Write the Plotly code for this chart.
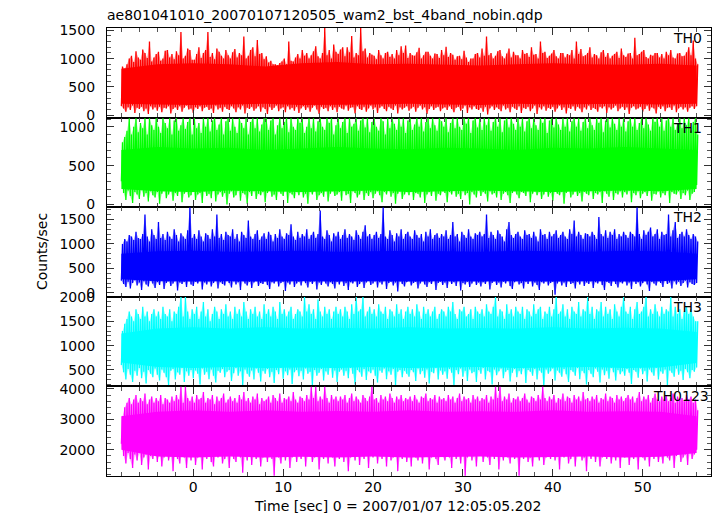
import numpy as np
import plotly.graph_objects as go
from plotly.subplots import make_subplots

# ---------------- data ----------------
# sample times (s): one low/high pair every 0.25 s, from -8 s to 56 s
time_s = np.arange(-8.0, 56.001, 0.25)
# times (s) of the dense-core band edges, one every 4 s
core_time_s = np.arange(-8.0, 56.001, 4.0)

panel_names = ["TH0", "TH1", "TH2", "TH3", "TH0123"]
panel_colors = ["#ff0000", "#00ff00", "#0000ff", "#00ffff", "#ff00ff"]

th0_hi = [
    860, 820, 900, 1000, 1050, 940, 1130, 1020, 980, 1160, 1100, 1010, 1300, 950, 1020, 1080,
    1120, 960, 1000, 1140, 1150, 1020, 1080, 990, 1130, 1060, 1470, 1000, 1050, 1180, 1150, 980,
    980, 1080, 1200, 1010, 1100, 1150, 1470, 1030, 1100, 990, 1180, 1120, 1050, 1000, 1150, 1060,
    1000, 1110, 1170, 1020, 1100, 1060, 1390, 1000, 1050, 1150, 1200, 1040, 1330, 1080, 1100, 990,
    1040, 930, 960, 900, 900, 880, 920, 950, 1000, 900, 1300, 960, 950, 1020, 1080, 1000,
    1150, 1050, 1100, 1000, 1060, 1130, 1220, 1040, 1000, 1100, 1540, 1060, 1150, 1000, 1250, 1120,
    1080, 1160, 1200, 1040, 1200, 1110, 1400, 1020, 1100, 1060, 1540, 1130, 1180, 1020, 1100, 1070,
    1050, 990, 1150, 1060, 1000, 1100, 1120, 1030, 1080, 1000, 1150, 1060, 1220, 1100, 1230, 1010,
    1100, 1060, 1050, 1110, 1190, 1000, 1060, 1120, 1120, 1050, 1000, 1090, 1080, 1010, 1150, 1060,
    1210, 1030, 1100, 1070, 980, 1040, 1050, 990, 1140, 1020, 940, 1000, 1000, 1080, 1100, 1020,
    1180, 1050, 1390, 1060, 1100, 1000, 1050, 1130, 1150, 1040, 1000, 1090, 1180, 1020, 1120, 1060,
    1060, 1000, 1150, 1080, 1100, 1030, 1200, 1070, 1080, 1000, 1300, 1100, 1120, 1010, 1050, 1090,
    1150, 1040, 1000, 1100, 1100, 1020, 1080, 1060, 1150, 1000, 1300, 1080, 1170, 1040, 1060, 1100,
    1200, 1020, 1080, 1060, 1000, 1110, 1150, 1030, 1100, 1000, 1050, 1080, 1120, 1010, 1180, 1060,
    1030, 1090, 1100, 1000, 1370, 1060, 1080, 1120, 1150, 1030, 1000, 1070, 1050, 1100, 1100, 1020,
    1080, 1000, 1120, 1060, 1150, 1020, 1000, 1090, 1100, 1040, 1050, 1110, 1200, 1060, 1320, 1000,
    900]
th0_lo = [
    160, 120, 60, 140, 90, 170, 40, 130, 110, 150, 70, 120, 20, 160, 100, 140,
    80, 150, 50, 130, 120, 160, 30, 110, 140, 90, 160, 60, 130, 170, 100, 120,
    40, 140, 110, 160, 70, 130, 150, 90, 120, 40, 170, 100, 130, 60, 150, 110,
    90, 160, 120, 50, 140, 100, 170, 30, 130, 110, 150, 80, 120, 160, 60, 140,
    110, 20, 150, 90, 130, 170, 70, 120, 140, 50, 160, 100, 130, 80, 150, 40,
    120, 160, 90, 140, 60, 130, 170, 100, 20, 150, 110, 130, 70, 160, 90, 140,
    50, 150, 120, 100, 170, 80, 130, 140, 30, 160, 110, 90, 150, 60, 120, 170,
    100, 140, 40, 130, 160, 110, 70, 150, 120, 90, 170, 30, 140, 100, 130, 160,
    80, 120, 150, 60, 130, 170, 100, 140, 20, 110, 160, 90, 130, 150, 70, 120,
    140, 90, 160, 110, 50, 130, 150, 80, 120, 170, 40, 140, 100, 160, 110, 90,
    130, 60, 150, 10, 120, 160, 90, 140, 110, 70, 170, 100, 130, 50, 150, 120,
    90, 160, 40, 130, 110, 150, 70, 120, 170, 20, 140, 100, 160, 80, 130, 110,
    150, 60, 120, 170, 90, 140, 30, 130, 110, 160, 80, 150, 120, 50, 140, 100,
    170, 90, 130, 110, 60, 150, 120, 160, 40, 140, 100, 130, 170, 70, 120, 150,
    90, 140, 20, 130, 160, 100, 120, 150, 60, 110, 170, 80, 140, 120, 30, 150,
    110, 160, 70, 130, 140, 90, 170, 50, 120, 150, 100, 140, 60, 130, 160, 110,
    160]
th0_core_hi = [820, 900, 920, 900, 860, 920, 940, 900, 910, 900, 880, 900, 920, 900, 890, 910, 880]
th0_core_lo = [200, 190, 180, 190, 200, 180, 190, 190, 200, 190, 180, 200, 190, 190, 200, 190, 200]

th1_hi = [
    800, 870, 950, 1110, 900, 1000, 1110, 930, 1050, 980, 1110, 900, 1110, 1020, 960, 1110,
    1000, 920, 1110, 1050, 980, 1110, 900, 1080, 1110, 950, 1020, 1110, 970, 1060, 1110, 900,
    1110, 980, 1050, 920, 1110, 1000, 1110, 940, 1080, 1110, 960, 1030, 1110, 900, 1070, 1110,
    950, 1110, 1000, 920, 1110, 1050, 980, 1110, 900, 1060, 1110, 980, 1110, 940, 1030, 1110,
    1110, 960, 1080, 1110, 900, 1020, 1110, 980, 1060, 1110, 930, 1110, 1000, 960, 1110, 1050,
    1110, 920, 1000, 1110, 980, 1110, 940, 1070, 1110, 1000, 960, 1110, 1050, 1110, 900, 1020,
    1110, 980, 1060, 1110, 920, 1110, 1000, 1040, 1110, 950, 1080, 1110, 990, 1110, 930, 1060,
    1110, 1000, 950, 1110, 1070, 900, 1110, 980, 1110, 1040, 960, 1110, 1000, 1110, 920, 1080,
    1110, 960, 1030, 1110, 1000, 1110, 940, 1060, 1110, 980, 1110, 1020, 950, 1110, 1070, 1000,
    1110, 930, 1050, 1110, 980, 1110, 1000, 960, 1110, 1040, 1110, 920, 1080, 1110, 990, 1110,
    960, 1110, 1020, 1110, 950, 1060, 1110, 1000, 1110, 930, 1080, 1110, 990, 1110, 1040, 960,
    1110, 1000, 1110, 940, 1070, 1110, 980, 1110, 1020, 960, 1110, 1050, 1110, 920, 1080, 1110,
    990, 1110, 1030, 960, 1110, 1000, 1110, 940, 1070, 1110, 1000, 1110, 950, 1060, 1110, 980,
    1110, 1020, 960, 1110, 1050, 1110, 930, 1080, 1110, 990, 1110, 1040, 960, 1110, 1000, 1110,
    940, 1070, 1110, 1000, 1110, 960, 1050, 1110, 980, 1110, 1030, 950, 1110, 1060, 1110, 1000,
    1110, 950, 1080, 1110, 1000, 1110, 960, 1040, 1110, 980, 1110, 1020, 1110, 950, 1060, 1110,
    900]
th1_lo = [
    300, 150, 60, 180, 110, 20, 160, 130, 70, 190, 100, 150, 40, 170, 120, 90,
    160, 10, 140, 180, 80, 130, 170, 50, 150, 110, 190, 30, 140, 160, 90, 120,
    180, 60, 130, 150, 20, 170, 110, 140, 80, 190, 40, 130, 160, 100, 150, 0,
    140, 170, 90, 120, 180, 50, 150, 130, 10, 160, 110, 180, 70, 140, 120, 160,
    30, 150, 180, 100, 130, 60, 170, 140, 110, 190, 20, 150, 130, 80, 160, 120,
    170, 90, 140, 10, 160, 130, 180, 60, 120, 150, 100, 190, 40, 140, 170, 110,
    130, 160, 50, 180, 120, 140, 20, 170, 150, 90, 130, 180, 60, 150, 110, 160,
    80, 140, 170, 120, 30, 160, 130, 180, 100, 150, 10, 140, 170, 70, 130, 160,
    120, 180, 60, 150, 140, 90, 170, 20, 130, 160, 110, 180, 50, 140, 120, 170,
    150, 30, 160, 130, 180, 100, 140, 70, 170, 120, 150, 0, 160, 130, 90, 180,
    110, 160, 140, 40, 170, 130, 150, 90, 180, 60, 140, 160, 120, 20, 150, 170,
    130, 80, 160, 150, 110, 180, 30, 140, 170, 120, 160, 70, 130, 180, 100, 150,
    50, 170, 140, 120, 160, 10, 150, 180, 90, 130, 170, 110, 150, 40, 160, 140,
    120, 180, 70, 150, 130, 160, 20, 170, 140, 100, 180, 60, 150, 130, 170, 90,
    160, 130, 180, 30, 150, 120, 170, 80, 140, 160, 110, 180, 50, 140, 130, 170,
    90, 150, 120, 180, 20, 160, 140, 130, 170, 70, 150, 120, 180, 60, 140, 160,
    250]
th1_core_hi = [700, 740, 720, 730, 700, 720, 740, 720, 710, 730, 720, 700, 730, 720, 740, 720, 700]
th1_core_lo = [200, 170, 160, 180, 170, 160, 170, 180, 160, 170, 180, 170, 160, 170, 180, 170, 200]

th2_hi = [
    1000, 1100, 1050, 1180, 1150, 1080, 1250, 1120, 1100, 1200, 1600, 1150, 1050, 1300, 1180, 1100,
    1450, 1120, 1200, 1080, 1250, 1150, 1100, 1300, 1180, 1050, 1220, 1150, 1100, 1280, 1750, 1120,
    1200, 1100, 1280, 1150, 1050, 1220, 1180, 1100, 1300, 1150, 1600, 1120, 1200, 1080, 1250, 1180,
    1150, 1300, 1100, 1200, 1050, 1250, 1180, 1120, 1480, 1150, 1100, 1200, 1280, 1080, 1150, 1220,
    1100, 1250, 1180, 1050, 1200, 1120, 1300, 1150, 1100, 1220, 1180, 1400, 1150, 1080, 1250, 1120,
    1200, 1150, 1300, 1100, 1180, 1250, 1120, 1200, 1680, 1150, 1100, 1280, 1180, 1050, 1220, 1150,
    1250, 1100, 1180, 1300, 1120, 1200, 1150, 1080, 1280, 1180, 1100, 1250, 1380, 1150, 1200, 1100,
    1180, 1250, 1120, 1200, 1750, 1150, 1100, 1280, 1180, 1050, 1220, 1150, 1300, 1100, 1200, 1250,
    1150, 1100, 1280, 1180, 1120, 1200, 1050, 1250, 1150, 1300, 1100, 1180, 1220, 1120, 1200, 1150,
    1280, 1100, 1180, 1450, 1150, 1200, 1050, 1250, 1180, 1120, 1300, 1150, 1100, 1220, 1180, 1250,
    1150, 1200, 1600, 1120, 1250, 1180, 1100, 1280, 1200, 1150, 1050, 1300, 1450, 1180, 1120, 1200,
    1250, 1150, 1100, 1280, 1180, 1200, 1120, 1250, 1150, 1050, 1300, 1180, 1200, 1100, 1250, 1150,
    1200, 1280, 1120, 1180, 1250, 1150, 1100, 1300, 1200, 1480, 1150, 1250, 1180, 1100, 1220, 1200,
    1150, 1250, 1180, 1100, 1550, 1200, 1150, 1280, 1120, 1250, 1180, 1300, 1100, 1200, 1150, 1250,
    1180, 1120, 1250, 1200, 1150, 1750, 1200, 1100, 1280, 1180, 1250, 1335, 1150, 1200, 1300, 1100,
    1250, 1180, 1200, 1600, 1150, 1280, 1450, 1120, 1200, 1250, 1150, 1300, 1180, 1100, 1200, 1150,
    1050]
th2_lo = [
    250, 180, 120, 230, 90, 200, 260, 150, 210, 60, 240, 170, 130, 250, 190, 100,
    220, 160, 270, 80, 200, 240, 140, 190, 250, 50, 210, 180, 230, 120, 260, 170,
    140, 230, 190, 260, 70, 210, 170, 240, 130, 200, 250, 90, 220, 180, 150, 260,
    200, 110, 240, 170, 220, 60, 250, 190, 150, 230, 100, 210, 260, 140, 200, 180,
    240, 160, 80, 220, 190, 250, 130, 200, 230, 40, 210, 170, 250, 120, 190, 230,
    150, 260, 200, 110, 230, 180, 240, 70, 210, 160, 250, 190, 130, 220, 180, 90,
    230, 170, 250, 140, 200, 60, 220, 190, 250, 120, 180, 230, 100, 210, 250, 160,
    190, 240, 110, 220, 170, 250, 80, 200, 230, 150, 210, 30, 240, 180, 130, 220,
    250, 150, 200, 230, 90, 190, 240, 170, 120, 220, 180, 250, 60, 200, 230, 160,
    210, 100, 240, 180, 220, 140, 250, 50, 200, 170, 230, 120, 190, 250, 160, 210,
    130, 220, 180, 250, 70, 200, 240, 160, 210, 110, 230, 190, 250, 140, 80, 220,
    240, 170, 200, 90, 230, 180, 250, 130, 210, 160, 60, 220, 190, 240, 150, 200,
    230, -40, 190, 240, 150, 210, 120, 250, 180, 200, 90, 230, 170, 250, 140, 210,
    180, 240, 100, 220, 190, 250, 160, 60, 230, 200, 140, 250, 180, 110, 220, 190,
    250, 150, 210, 80, 240, 180, 220, 130, 200, 250, 170, 40, 230, 190, 150, 240,
    200, 120, 250, 180, 210, 90, 240, 170, 230, 140, 200, 250, 110, 220, 180, 160,
    200]
th2_core_hi = [800, 850, 860, 840, 850, 860, 840, 850, 860, 850, 840, 860, 850, 840, 860, 850, 800]
th2_core_lo = [280, 240, 230, 240, 230, 240, 230, 240, 230, 240, 230, 240, 230, 240, 230, 240, 280]

th3_hi = [
    1300, 1450, 1550, 1700, 1600, 1500, 1750, 1650, 1550, 1800, 1600, 1700, 1500, 1650, 1750, 1600,
    1700, 1550, 1800, 1650, 1600, 1750, 1500, 1700, 1650, 1800, 2000, 1600, 2000, 1700, 1550, 1750,
    1650, 1800, 1550, 1700, 1900, 1600, 1750, 1500, 1650, 1800, 1700, 1550, 1750, 1650, 1850, 1600,
    1700, 1550, 1800, 1650, 1750, 1600, 1900, 1700, 1550, 1750, 1650, 1800, 1600, 1700, 1550, 1850,
    1650, 1750, 1600, 1800, 1700, 1550, 1900, 1650, 1750, 1600, 1700, 1800, 1550, 1650, 1750, 1700,
    1600, 2000, 1700, 1850, 1650, 1750, 1550, 1950, 1700, 1600, 1800, 1650, 1750, 1550, 1700, 1800,
    1650, 1750, 1600, 1800, 1700, 1550, 1850, 1650, 2000, 1700, 1750, 2000, 1600, 1700, 1800, 1650,
    1750, 1600, 1850, 1700, 1650, 1800, 1550, 1750, 1700, 1600, 1850, 1650, 1750, 1550, 1700, 1800,
    1650, 1750, 1600, 1850, 1700, 1550, 1800, 1650, 1750, 1600, 1700, 1800, 1550, 1650, 1750, 1700,
    1600, 1800, 1700, 1900, 1650, 1550, 1750, 1700, 1800, 1600, 1650, 1750, 1550, 1800, 1700, 1650,
    1750, 1600, 1850, 1700, 1650, 1800, 2000, 1600, 1750, 1700, 1550, 1850, 1650, 1750, 1600, 1800,
    1700, 1650, 1800, 1550, 1750, 1700, 1600, 1850, 1650, 1750, 1800, 1550, 1700, 1650, 1800, 1600,
    1750, 2000, 1650, 1700, 1850, 1600, 1750, 1550, 1800, 1700, 1650, 1900, 1600, 1750, 1700, 2000,
    1650, 1800, 1550, 1750, 1700, 1900, 1600, 1800, 1650, 1750, 1550, 1850, 1700, 1600, 1800, 2000,
    1700, 1650, 1800, 1550, 1750, 1900, 1650, 1700, 1800, 2000, 1600, 1750, 1650, 1850, 1700, 1600,
    1800, 1650, 1750, 1700, 2000, 1600, 1800, 1650, 1750, 1550, 1700, 1800, 1650, 1750, 1600, 1500,
    1500]
th3_lo = [
    600, 450, 300, 520, 400, 250, 480, 380, 540, 330, 460, 220, 500, 420, 350, 530,
    400, 280, 510, 440, 350, 190, 480, 520, 300, 450, 400, 540, 250, 470, 380, 500,
    330, 490, 420, 200, 530, 400, 460, 310, 510, 380, 240, 480, 440, 520, 350, 460,
    500, 270, 430, 540, 380, 470, 180, 510, 420, 360, 490, 300, 530, 440, 260, 480,
    420, 520, 350, 460, 230, 500, 410, 540, 320, 470, 390, 510, 210, 450, 500, 370,
    480, 300, 530, 420, 460, 170, 500, 380, 440, 520, 280, 470, 400, 540, 340, 490,
    250, 460, 510, 380, 480, 330, 540, 420, 200, 500, 450, 360, 520, 290, 470, 430,
    510, 380, 240, 490, 440, 530, 310, 470, 400, 520, 180, 460, 500, 350, 480, 420,
    360, 500, 450, 270, 530, 410, 480, 340, 510, 220, 460, 430, 540, 300, 490, 400,
    470, 320, 520, 440, 190, 500, 410, 530, 360, 480, 270, 510, 430, 460, 250, 500,
    420, 540, 300, 480, 450, 200, 510, 390, 470, 530, 330, 460, 500, 260, 440, 520,
    350, 480, 410, 530, 230, 500, 460, 380, 520, 300, 490, 440, 170, 510, 420, 470,
    530, 280, 490, 440, 360, 520, 410, 250, 500, 460, 380, 540, 310, 480, 430, 200,
    500, 420, 350, 530, 460, 240, 510, 390, 480, 320, 540, 450, 280, 500, 410, 470,
    380, 520, 440, 210, 500, 460, 340, 530, 410, 480, 260, 510, 450, 380, 540, 300,
    470, 420, 510, 180, 490, 440, 360, 530, 400, 480, 290, 520, 450, 330, 500, 460,
    550]
th3_core_hi = [1250, 1350, 1380, 1350, 1380, 1350, 1370, 1350, 1380, 1350, 1360, 1350, 1380, 1350, 1370, 1350, 1280]
th3_core_lo = [650, 560, 540, 560, 540, 550, 540, 560, 540, 550, 560, 540, 550, 560, 540, 550, 640]

th0123_hi = [
    3100, 3400, 3550, 3700, 3500, 3650, 3800, 3550, 3700, 3600, 3850, 3500, 3650, 3750, 3550, 3700,
    3600, 3800, 3500, 3700, 3650, 3550, 3750, 3600, 3800, 3650, 4080, 3550, 4080, 3700, 3600, 3750,
    3550, 3800, 3650, 3700, 3900, 3550, 3700, 3650, 3800, 3500, 3750, 3600, 3700, 3850, 3550, 3650,
    3750, 3600, 3700, 3550, 3800, 3650, 3900, 3600, 3700, 3550, 3750, 3650, 3850, 3500, 3700, 3600,
    3650, 3750, 3550, 3800, 3700, 3600, 3850, 3550, 3700, 3650, 3750, 3600, 3900, 3650, 3550, 3750,
    3700, 3600, 3800, 3650, 4080, 3700, 4080, 3600, 3750, 3650, 4080, 3700, 3550, 3800, 3650, 3750,
    3600, 3750, 3650, 3800, 3550, 3700, 3850, 3600, 3750, 3650, 3550, 3800, 3700, 3600, 3750, 4080,
    3650, 3700, 3550, 3800, 3650, 3750, 3600, 3850, 3700, 3550, 3750, 3650, 3800, 3600, 3700, 3650,
    3750, 3600, 3800, 3650, 3550, 3750, 3700, 3850, 3600, 3700, 3650, 3800, 3550, 3750, 3650, 3700,
    3600, 3800, 3650, 3750, 3550, 3700, 3850, 3600, 3750, 3650, 3700, 3550, 3800, 3650, 3750, 3600,
    3700, 3650, 3800, 3550, 3750, 3650, 4080, 3700, 4080, 3600, 3750, 3650, 3850, 3550, 3700, 3650,
    3750, 3600, 3700, 3850, 3650, 3550, 3750, 3700, 3600, 3800, 3650, 4080, 3700, 3600, 3750, 3650,
    3800, 3550, 3700, 3650, 3850, 3600, 3750, 3700, 3550, 3800, 3650, 3750, 3600, 3900, 3650, 3700,
    3600, 3750, 3650, 3800, 3550, 3700, 3650, 3850, 3600, 3750, 3700, 3550, 3800, 3650, 3750, 3600,
    3700, 3800, 3650, 3750, 3550, 3700, 3900, 3600, 3750, 3650, 3800, 3550, 3700, 3850, 3650, 3600,
    3750, 3650, 3800, 3600, 3700, 3850, 3550, 3750, 3650, 3700, 3600, 3800, 3650, 3750, 3550, 3650,
    3300]
th0123_lo = [
    2200, 1800, 1550, 1900, 1700, 1400, 1850, 1650, 1900, 1500, 1750, 1850, 1350, 1800, 1700, 1900,
    1600, 1850, 1450, 1750, 1900, 1650, 1800, 1300, 1850, 1700, 1550, 1900, 1750, 1400, 1800, 1650,
    1900, 1500, 1750, 1850, 1350, 1800, 1700, 1900, 1600, 1450, 1850, 1750, 1900, 1550, 1700, 1800,
    1400, 1850, 1700, 1600, 1900, 1750, 1250, 1800, 1650, 1900, 1500, 1850, 1700, 1800, 1450, 1750,
    1850, 1600, 1900, 1700, 1150, 1800, 1750, 1550, 1900, 1650, 1850, 1400, 1750, 1900, 1600, 1800,
    1700, 1900, 1450, 1800, 1850, 1600, 1750, 1900, 1350, 1800, 1700, 1850, 1550, 1900, 1750, 1450,
    1850, 1700, 1900, 1600, 1800, 1300, 1750, 1850, 1650, 1900, 1500, 1800, 1700, 1900, 1400, 1850,
    1750, 1900, 1550, 1800, 1700, 1850, 1450, 1900, 1650, 1750, 1850, 1300, 1800, 1700, 1900, 1600,
    1800, 1450, 1900, 1750, 1650, 1850, 1550, 1800, 1900, 1350, 1750, 1850, 1700, 1500, 1900, 1800,
    1650, 1850, 1750, 1400, 1900, 1700, 1800, 1550, 1850, 1150, 1750, 1900, 1650, 1800, 1450, 1850,
    1900, 1600, 1800, 1750, 1500, 1850, 1700, 1900, 1350, 1800, 1650, 1850, 1750, 1550, 1900, 1700,
    1800, 1150, 1850, 1700, 1900, 1600, 1750, 1450, 1850, 1800, 1650, 1900, 1500, 1750, 1850, 1700,
    1900, 1650, 1800, 1350, 1850, 1750, 1900, 1550, 1700, 1850, 1450, 1800, 1900, 1650, 1750, 1300,
    1850, 1700, 1900, 1600, 1800, 1450, 1750, 1850, 1700, 1900, 1550, 1800, 1650, 1900, 1400, 1850,
    1750, 1900, 1500, 1800, 1700, 1850, 1350, 1900, 1750, 1650, 1800, 1450, 1900, 1700, 1850, 1600,
    1800, 1550, 1900, 1750, 1650, 1850, 1400, 1800, 1900, 1600, 1750, 1850, 1500, 1900, 1700, 1850,
    2000]
th0123_core_hi = [3100, 3250, 3300, 3250, 3300, 3250, 3280, 3250, 3300, 3250, 3270, 3250, 3300, 3250, 3270, 3250, 3100]
th0123_core_lo = [2000, 1780, 1750, 1780, 1750, 1770, 1750, 1780, 1750, 1770, 1780, 1750, 1770, 1780, 1750, 1770, 1900]

x_ticks = [0, 10, 20, 30, 40, 50]
y_ticks = [[0, 500, 1000, 1500], [0, 500, 1000], [0, 500, 1000, 1500],
           [500, 1000, 1500, 2000], [2000, 3000, 4000]]

panels = [
    (th0_hi, th0_lo, th0_core_hi, th0_core_lo),
    (th1_hi, th1_lo, th1_core_hi, th1_core_lo),
    (th2_hi, th2_lo, th2_core_hi, th2_core_lo),
    (th3_hi, th3_lo, th3_core_hi, th3_core_lo),
    (th0123_hi, th0123_lo, th0123_core_hi, th0123_core_lo),
]

# ---------------- styling ----------------
y_ranges = [[-43, 1541], [-34, 1118], [-80, 1750], [160, 2005], [1140, 4085]]
y_minor = [100, 100, 100, 100, 200]
FONT = "DejaVu Sans"


def rgba(hexcol, a):
    h = hexcol.lstrip("#")
    return "rgba(%d,%d,%d,%.2f)" % (int(h[0:2], 16), int(h[2:4], 16), int(h[4:6], 16), a)


fig = make_subplots(rows=5, cols=1, shared_xaxes=False, vertical_spacing=0)

t = [float(v) for v in time_s]
tc = [float(v) for v in core_time_s]
half = 0.125
for k, (hi, lo, chi, clo) in enumerate(panels):
    row = k + 1
    col = panel_colors[k]
    t_hi = [v + half for v in t]
    # faint haze between the spikes
    fig.add_trace(go.Scatter(x=t_hi + t[::-1], y=list(hi) + list(lo)[::-1],
                             fill="toself", fillcolor=rgba(col, 0.4),
                             line=dict(width=0), mode="lines", hoverinfo="skip",
                             showlegend=False), row=row, col=1)
    # dense core
    fig.add_trace(go.Scatter(x=tc + tc[::-1], y=list(chi) + list(clo)[::-1],
                             fill="toself", fillcolor=col,
                             line=dict(width=0), mode="lines", hoverinfo="skip",
                             showlegend=False), row=row, col=1)
    # rapid fluctuations between the low and high values
    xs, ys = [], []
    for ti, l, h in zip(t, lo, hi):
        xs += [ti, ti + half]
        ys += [l, h]
    fig.add_trace(go.Scatter(x=xs, y=ys, mode="lines", line=dict(color=col, width=1.3),
                             hoverinfo="skip", showlegend=False), row=row, col=1)

for k in range(5):
    row = k + 1
    fig.update_yaxes(range=y_ranges[k], tickvals=y_ticks[k], ticks="inside", ticklen=7,
                     tickwidth=1, tickcolor="#333", showline=True, linecolor="black",
                     linewidth=1.3, mirror="allticks", showgrid=False, zeroline=False,
                     ticklabelstandoff=8,
                     minor=dict(dtick=y_minor[k], tick0=0, ticks="inside", ticklen=4,
                                tickcolor="#555", showgrid=False),
                     tickfont=dict(family=FONT, size=14, color="black"), row=row, col=1)
    fig.update_xaxes(range=[-9.6, 57.6], tickvals=x_ticks, ticks="inside", ticklen=7,
                     tickwidth=1, tickcolor="#333", showline=True, linecolor="black",
                     linewidth=1.3, mirror="allticks", showgrid=False, zeroline=False,
                     showticklabels=(row == 5), ticklabelstandoff=-2,
                     minor=dict(dtick=2, tick0=0, ticks="inside", ticklen=4,
                                tickcolor="#555", showgrid=False),
                     tickfont=dict(family=FONT, size=14, color="black"), row=row, col=1)
    # panel label
    xr = 1.0 if k == 4 else 0.988
    fig.add_annotation(text=panel_names[k], xref="x%s domain" % ("" if row == 1 else row),
                       yref="y%s domain" % ("" if row == 1 else row), x=xr, y=1.0,
                       xanchor="right", yanchor="top", showarrow=False,
                       font=dict(family=FONT, size=14, color="black"), yshift=0)

fig.add_annotation(text="Counts/sec", xref="paper", yref="paper", x=-0.1075, y=0.5,
                   textangle=-90, showarrow=False, xanchor="center", yanchor="middle",
                   font=dict(family=FONT, size=14, color="black"))
fig.add_annotation(text="Time [sec] 0 = 2007/01/07 12:05:05.202", xref="paper", yref="paper",
                   x=0.481, y=-0.068, showarrow=False, xanchor="center", yanchor="middle",
                   font=dict(family=FONT, size=14, color="black"))

fig.update_layout(
    width=717, height=516, autosize=False,
    margin=dict(l=107, r=5.5, t=28, b=40),
    paper_bgcolor="white", plot_bgcolor="white",
    title=dict(text="ae801041010_20070107120505_wam2_bst_4band_nobin.qdp",
               x=107 / 717, y=1 - 15.5 / 516, xref="container", yref="container",
               xanchor="left", yanchor="middle",
               font=dict(family=FONT, size=14, color="black")),
    hovermode=False,
)

fig.write_html("out.html", config={"displayModeBar": False},
               post_script="document.body.style.margin='0';document.body.style.padding='0';"
                           "document.body.style.overflow='hidden';")
